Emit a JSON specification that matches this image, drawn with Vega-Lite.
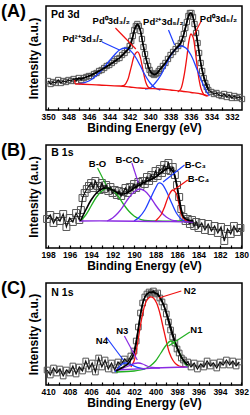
{
  "$schema": "https://vega.github.io/schema/vega-lite/v6.json",
  "padding": {"left": 0, "top": 2, "right": 6, "bottom": 0},
  "autosize": {"type": "pad"},
  "spacing": 6,
  "config": {
    "font": "Liberation Sans",
    "view": {"stroke": "#000", "strokeWidth": 1.5},
    "axisX": {"domain": false, "grid": false, "tickSize": -3, "tickColor": "#000", "tickWidth": 1.2, "labelFontSize": 8.5, "labelFontWeight": "bold", "labelColor": "#000", "labelPadding": 5, "labelFlush": false, "labelOverlap": false, "titleFontSize": 12, "titleFontWeight": "bold", "titleColor": "#000", "titlePadding": 2, "labelExpr": "datum.value % 2 === 0 ? datum.label : ''"},
    "axisY": {"domain": false, "grid": false, "ticks": false, "labels": false, "minExtent": 0, "titleFontSize": 12, "titleFontWeight": "bold", "titleColor": "#000", "titlePadding": 6},
    "title": {"fontSize": 18, "fontWeight": "bold", "color": "#000", "anchor": "start", "frame": "group", "dx": -45, "offset": -15}
  },
  "datasets": {
    "rawA": [
      {"e":350.0,"i":29},{"e":349.75,"i":26},{"e":349.5,"i":28},{"e":349.25,"i":27},{"e":349.0,"i":30},{"e":348.75,"i":27},{"e":348.5,"i":29},{"e":348.25,"i":28},{"e":348.0,"i":30},{"e":347.75,"i":29},{"e":347.5,"i":31},{"e":347.25,"i":29},{"e":347.0,"i":32},{"e":346.75,"i":30},{"e":346.5,"i":32},{"e":346.25,"i":33},{"e":346.0,"i":34},{"e":345.75,"i":34},{"e":345.5,"i":36},{"e":345.25,"i":37},{"e":345.0,"i":39},{"e":344.75,"i":40},{"e":344.5,"i":42},{"e":344.25,"i":44},{"e":344.0,"i":45},{"e":343.75,"i":47},{"e":343.5,"i":49},{"e":343.25,"i":51},{"e":343.0,"i":52},{"e":342.75,"i":55},{"e":342.5,"i":57},{"e":342.25,"i":60},{"e":342.0,"i":64},{"e":341.85,"i":69},{"e":341.7,"i":74},{"e":341.55,"i":80},{"e":341.4,"i":84},{"e":341.25,"i":86},{"e":341.1,"i":84},{"e":340.95,"i":79},{"e":340.8,"i":71},{"e":340.65,"i":63},{"e":340.5,"i":56},{"e":340.35,"i":49},{"e":340.2,"i":44},{"e":340.05,"i":40},{"e":339.9,"i":37},{"e":339.75,"i":36},{"e":339.6,"i":35},{"e":339.45,"i":36},{"e":339.3,"i":37},{"e":339.15,"i":39},{"e":339.0,"i":41},{"e":338.75,"i":44},{"e":338.5,"i":47},{"e":338.25,"i":51},{"e":338.0,"i":55},{"e":337.75,"i":58},{"e":337.5,"i":61},{"e":337.25,"i":64},{"e":337.0,"i":67},{"e":336.85,"i":71},{"e":336.7,"i":76},{"e":336.55,"i":82},{"e":336.4,"i":88},{"e":336.25,"i":94},{"e":336.1,"i":97},{"e":335.95,"i":97},{"e":335.8,"i":93},{"e":335.65,"i":86},{"e":335.5,"i":77},{"e":335.35,"i":67},{"e":335.2,"i":57},{"e":335.05,"i":47},{"e":334.9,"i":39},{"e":334.75,"i":32},{"e":334.6,"i":27},{"e":334.45,"i":23},{"e":334.3,"i":20},{"e":334.0,"i":18},{"e":333.75,"i":16},{"e":333.5,"i":17},{"e":333.25,"i":15},{"e":333.0,"i":14},{"e":332.75,"i":16},{"e":332.5,"i":13},{"e":332.25,"i":15},{"e":332.0,"i":12},{"e":331.75,"i":14},{"e":331.5,"i":12},{"e":331.25,"i":13},{"e":331.0,"i":11}
    ],
    "envA": [
      {"e":347.4,"i":31},{"e":346.5,"i":32},{"e":346,"i":34},{"e":345,"i":39},{"e":344,"i":45},{"e":343,"i":52},{"e":342.5,"i":57},{"e":342,"i":63},{"e":341.7,"i":73},{"e":341.5,"i":81},{"e":341.3,"i":85},{"e":341.1,"i":84},{"e":340.9,"i":77},{"e":340.7,"i":66},{"e":340.5,"i":56},{"e":340.2,"i":44},{"e":340,"i":39},{"e":339.7,"i":36},{"e":339.4,"i":36},{"e":339,"i":41},{"e":338.5,"i":47},{"e":338,"i":55},{"e":337.5,"i":61},{"e":337,"i":67},{"e":336.7,"i":76},{"e":336.4,"i":88},{"e":336.2,"i":95},{"e":336.0,"i":97},{"e":335.8,"i":93},{"e":335.6,"i":83},{"e":335.4,"i":71},{"e":335.2,"i":58},{"e":335,"i":45},{"e":334.7,"i":32},{"e":334.3,"i":21}
    ],
    "compA": [
      {"c":"Pd0 3d3/2","e":342.8,"i":24},{"c":"Pd0 3d3/2","e":342.5,"i":25},{"c":"Pd0 3d3/2","e":342.2,"i":30},{"c":"Pd0 3d3/2","e":342.0,"i":37},{"c":"Pd0 3d3/2","e":341.8,"i":45},{"c":"Pd0 3d3/2","e":341.6,"i":53},{"c":"Pd0 3d3/2","e":341.4,"i":57},{"c":"Pd0 3d3/2","e":341.2,"i":58},{"c":"Pd0 3d3/2","e":341.0,"i":54},{"c":"Pd0 3d3/2","e":340.8,"i":45},{"c":"Pd0 3d3/2","e":340.6,"i":35},{"c":"Pd0 3d3/2","e":340.4,"i":27},{"c":"Pd0 3d3/2","e":340.2,"i":23},{"c":"Pd0 3d3/2","e":340.0,"i":22},
      {"c":"Pd0 3d5/2","e":337.3,"i":18},{"c":"Pd0 3d5/2","e":337.0,"i":21},{"c":"Pd0 3d5/2","e":336.7,"i":33},{"c":"Pd0 3d5/2","e":336.4,"i":53},{"c":"Pd0 3d5/2","e":336.2,"i":69},{"c":"Pd0 3d5/2","e":336.0,"i":76},{"c":"Pd0 3d5/2","e":335.8,"i":73},{"c":"Pd0 3d5/2","e":335.6,"i":61},{"c":"Pd0 3d5/2","e":335.4,"i":44},{"c":"Pd0 3d5/2","e":335.2,"i":30},{"c":"Pd0 3d5/2","e":335.0,"i":21},{"c":"Pd0 3d5/2","e":334.7,"i":15},{"c":"Pd0 3d5/2","e":334.4,"i":14},
      {"c":"Pd2+ 3d3/2","e":347,"i":26},{"c":"Pd2+ 3d3/2","e":346,"i":29},{"c":"Pd2+ 3d3/2","e":345,"i":37},{"c":"Pd2+ 3d3/2","e":344,"i":49},{"c":"Pd2+ 3d3/2","e":343.5,"i":55},{"c":"Pd2+ 3d3/2","e":343,"i":60},{"c":"Pd2+ 3d3/2","e":342.5,"i":62},{"c":"Pd2+ 3d3/2","e":342,"i":60},{"c":"Pd2+ 3d3/2","e":341.5,"i":54},{"c":"Pd2+ 3d3/2","e":341,"i":45},{"c":"Pd2+ 3d3/2","e":340.5,"i":35},{"c":"Pd2+ 3d3/2","e":340,"i":27},{"c":"Pd2+ 3d3/2","e":339.5,"i":22},{"c":"Pd2+ 3d3/2","e":339,"i":20},
      {"c":"Pd2+ 3d5/2","e":340.5,"i":21},{"c":"Pd2+ 3d5/2","e":340,"i":22},{"c":"Pd2+ 3d5/2","e":339.5,"i":27},{"c":"Pd2+ 3d5/2","e":339,"i":34},{"c":"Pd2+ 3d5/2","e":338.5,"i":44},{"c":"Pd2+ 3d5/2","e":338,"i":54},{"c":"Pd2+ 3d5/2","e":337.5,"i":61},{"c":"Pd2+ 3d5/2","e":337,"i":64},{"c":"Pd2+ 3d5/2","e":336.5,"i":62},{"c":"Pd2+ 3d5/2","e":336,"i":55},{"c":"Pd2+ 3d5/2","e":335.5,"i":43},{"c":"Pd2+ 3d5/2","e":335,"i":30},{"c":"Pd2+ 3d5/2","e":334.5,"i":19},{"c":"Pd2+ 3d5/2","e":334.2,"i":14},
      {"c":"Pd bg","e":347.4,"i":30},{"c":"Pd bg","e":347.3,"i":26},{"c":"Pd bg","e":347,"i":26},{"c":"Pd bg","e":345,"i":25},{"c":"Pd bg","e":343,"i":24},{"c":"Pd bg","e":342,"i":23},{"c":"Pd bg","e":341,"i":22},{"c":"Pd bg","e":340,"i":21.5},{"c":"Pd bg","e":339,"i":21},{"c":"Pd bg","e":338,"i":20},{"c":"Pd bg","e":337,"i":19},{"c":"Pd bg","e":336,"i":17.5},{"c":"Pd bg","e":335,"i":16},{"c":"Pd bg","e":334.3,"i":14}
    ],
    "arrA": [
      {"c":"Pd2+ 3d3/2","e":344.7,"i":68,"e2":343.0,"i2":60},
      {"c":"Pd0 3d3/2","e":343.4,"i":82,"e2":341.4,"i2":61},
      {"c":"Pd2+ 3d5/2","e":338.2,"i":80,"e2":337.6,"i2":65},
      {"c":"Pd0 3d5/2","e":335.0,"i":89,"e2":335.7,"i2":75}
    ],
    "labA": [
      {"t":"Pd²⁺3d₃/₂","e":346.6,"i":71},
      {"t":"Pd⁰3d₃/₂","e":343.8,"i":89},
      {"t":"Pd²⁺3d₅/₂","e":338.7,"i":88},
      {"t":"Pd⁰3d₅/₂","e":333.3,"i":91}
    ],
    "tagA": [{"t":"Pd 3d","e":349.7,"i":95}],
    "rawB": [
      {"e":198.1,"i":29},{"e":197.8,"i":33},{"e":197.5,"i":25},{"e":197.2,"i":31},{"e":196.9,"i":27},{"e":196.6,"i":34},{"e":196.3,"i":21},{"e":196.0,"i":30},{"e":195.7,"i":26},{"e":195.4,"i":35},{"e":195.1,"i":28},{"e":194.95,"i":38},{"e":194.8,"i":50},{"e":194.6,"i":55},{"e":194.4,"i":59},{"e":194.2,"i":62},{"e":194.0,"i":65},{"e":193.8,"i":60},{"e":193.6,"i":67},{"e":193.4,"i":62},{"e":193.2,"i":58},{"e":193.0,"i":65},{"e":192.8,"i":59},{"e":192.6,"i":63},{"e":192.4,"i":57},{"e":192.2,"i":61},{"e":192.0,"i":55},{"e":191.8,"i":58},{"e":191.6,"i":53},{"e":191.4,"i":57},{"e":191.2,"i":52},{"e":191.0,"i":56},{"e":190.8,"i":60},{"e":190.6,"i":55},{"e":190.4,"i":61},{"e":190.2,"i":58},{"e":190.0,"i":64},{"e":189.8,"i":60},{"e":189.6,"i":66},{"e":189.4,"i":62},{"e":189.2,"i":67},{"e":189.0,"i":64},{"e":188.8,"i":71},{"e":188.6,"i":67},{"e":188.4,"i":73},{"e":188.2,"i":70},{"e":188.0,"i":77},{"e":187.8,"i":72},{"e":187.6,"i":79},{"e":187.4,"i":75},{"e":187.2,"i":83},{"e":187.0,"i":78},{"e":186.8,"i":85},{"e":186.6,"i":77},{"e":186.4,"i":81},{"e":186.2,"i":73},{"e":186.0,"i":63},{"e":185.8,"i":51},{"e":185.6,"i":39},{"e":185.4,"i":31},{"e":185.2,"i":27},{"e":185.0,"i":29},{"e":184.8,"i":24},{"e":184.6,"i":28},{"e":184.4,"i":22},{"e":184.2,"i":26},{"e":184.0,"i":20},{"e":183.7,"i":25},{"e":183.4,"i":18},{"e":183.1,"i":24},{"e":182.8,"i":17},{"e":182.5,"i":22},{"e":182.2,"i":15},{"e":181.9,"i":21},{"e":181.6,"i":7},{"e":181.3,"i":19},{"e":181.0,"i":14},{"e":180.7,"i":22},{"e":180.4,"i":16},{"e":180.1,"i":20}
    ],
    "envB": [
      {"e":195,"i":27},{"e":194.5,"i":38},{"e":194,"i":48},{"e":193.5,"i":55},{"e":193,"i":59},{"e":192.5,"i":60},{"e":192,"i":58},{"e":191.5,"i":55},{"e":191,"i":54},{"e":190.5,"i":56},{"e":190,"i":60},{"e":189.5,"i":63},{"e":189,"i":66},{"e":188.5,"i":68},{"e":188,"i":71},{"e":187.5,"i":75},{"e":187,"i":79},{"e":186.7,"i":80},{"e":186.4,"i":77},{"e":186.2,"i":71},{"e":186,"i":61},{"e":185.8,"i":48},{"e":185.6,"i":37},{"e":185.4,"i":31},{"e":185,"i":28},{"e":184.5,"i":27}
    ],
    "compB": [
      {"c":"B-O","e":195,"i":27},{"c":"B-O","e":194.5,"i":33},{"c":"B-O","e":194,"i":42},{"c":"B-O","e":193.5,"i":51},{"c":"B-O","e":193,"i":57},{"c":"B-O","e":192.5,"i":60},{"c":"B-O","e":192,"i":58},{"c":"B-O","e":191.5,"i":52},{"c":"B-O","e":191,"i":44},{"c":"B-O","e":190.5,"i":37},{"c":"B-O","e":190,"i":32},{"c":"B-O","e":189.5,"i":29},{"c":"B-O","e":189,"i":27.5},{"c":"B-O","e":188,"i":27},{"c":"B-O","e":186,"i":27},{"c":"B-O","e":185,"i":27},
      {"c":"B-CO2","e":192.5,"i":27},{"c":"B-CO2","e":192,"i":30},{"c":"B-CO2","e":191.5,"i":35},{"c":"B-CO2","e":191,"i":42},{"c":"B-CO2","e":190.5,"i":50},{"c":"B-CO2","e":190,"i":56},{"c":"B-CO2","e":189.5,"i":59},{"c":"B-CO2","e":189,"i":57},{"c":"B-CO2","e":188.5,"i":51},{"c":"B-CO2","e":188,"i":43},{"c":"B-CO2","e":187.5,"i":36},{"c":"B-CO2","e":187,"i":31},{"c":"B-CO2","e":186.5,"i":28},{"c":"B-CO2","e":186,"i":27},
      {"c":"B-C3","e":190,"i":27},{"c":"B-C3","e":189.5,"i":31},{"c":"B-C3","e":189,"i":38},{"c":"B-C3","e":188.5,"i":49},{"c":"B-C3","e":188,"i":60},{"c":"B-C3","e":187.7,"i":65},{"c":"B-C3","e":187.4,"i":64},{"c":"B-C3","e":187,"i":57},{"c":"B-C3","e":186.5,"i":45},{"c":"B-C3","e":186,"i":34},{"c":"B-C3","e":185.5,"i":28},{"c":"B-C3","e":185,"i":27},
      {"c":"B-C4","e":188,"i":27},{"c":"B-C4","e":187.5,"i":33},{"c":"B-C4","e":187.2,"i":40},{"c":"B-C4","e":187,"i":46},{"c":"B-C4","e":186.7,"i":54},{"c":"B-C4","e":186.4,"i":58},{"c":"B-C4","e":186.1,"i":55},{"c":"B-C4","e":185.9,"i":48},{"c":"B-C4","e":185.7,"i":38},{"c":"B-C4","e":185.5,"i":31},{"c":"B-C4","e":185.2,"i":27.5},{"c":"B-C4","e":185,"i":27},
      {"c":"B bg","e":195.1,"i":27},{"c":"B bg","e":192,"i":27},{"c":"B bg","e":188,"i":26.5},{"c":"B bg","e":184.5,"i":26}
    ],
    "arrB": [
      {"c":"B-O","e":193.4,"i":80,"e2":192.6,"i2":63},
      {"c":"B-CO2","e":190.2,"i":85,"e2":189.6,"i2":65},
      {"c":"B-C3","e":185.3,"i":83,"e2":187.3,"i2":66},
      {"c":"B-C4","e":185.0,"i":68,"e2":186.3,"i2":58}
    ],
    "labB": [
      {"t":"B-O","e":193.4,"i":84},
      {"t":"B-CO₂","e":190.4,"i":88},
      {"t":"B-C₃","e":184.3,"i":83},
      {"t":"B-C₄","e":184.0,"i":69}
    ],
    "tagB": [{"t":"B 1s","e":197.7,"i":95}],
    "rawC": [
      {"e":410.1,"i":15},{"e":409.8,"i":10},{"e":409.5,"i":17},{"e":409.2,"i":12},{"e":408.9,"i":16},{"e":408.6,"i":9},{"e":408.3,"i":15},{"e":408.0,"i":12},{"e":407.7,"i":19},{"e":407.4,"i":11},{"e":407.1,"i":18},{"e":406.8,"i":14},{"e":406.5,"i":24},{"e":406.2,"i":16},{"e":405.9,"i":22},{"e":405.6,"i":13},{"e":405.3,"i":27},{"e":405.0,"i":18},{"e":404.7,"i":25},{"e":404.4,"i":16},{"e":404.1,"i":22},{"e":403.8,"i":15},{"e":403.5,"i":23},{"e":403.2,"i":20},{"e":402.9,"i":26},{"e":402.6,"i":23},{"e":402.3,"i":29},{"e":402.0,"i":34},{"e":401.8,"i":44},{"e":401.6,"i":58},{"e":401.4,"i":72},{"e":401.2,"i":82},{"e":401.0,"i":88},{"e":400.8,"i":91},{"e":400.6,"i":93},{"e":400.4,"i":92},{"e":400.2,"i":94},{"e":400.0,"i":91},{"e":399.8,"i":92},{"e":399.6,"i":87},{"e":399.4,"i":83},{"e":399.2,"i":78},{"e":399.0,"i":71},{"e":398.8,"i":63},{"e":398.6,"i":55},{"e":398.4,"i":48},{"e":398.2,"i":42},{"e":398.0,"i":36},{"e":397.8,"i":32},{"e":397.6,"i":27},{"e":397.4,"i":25},{"e":397.2,"i":21},{"e":397.0,"i":23},{"e":396.7,"i":18},{"e":396.4,"i":22},{"e":396.1,"i":16},{"e":395.8,"i":21},{"e":395.5,"i":18},{"e":395.2,"i":24},{"e":394.9,"i":19},{"e":394.6,"i":22},{"e":394.3,"i":17},{"e":394.0,"i":23},{"e":393.7,"i":20},{"e":393.4,"i":25},{"e":393.1,"i":20},{"e":392.8,"i":24},{"e":392.5,"i":19},{"e":392.2,"i":23}
    ],
    "envC": [
      {"e":403.7,"i":14},{"e":403,"i":18},{"e":402.5,"i":22},{"e":402,"i":32},{"e":401.7,"i":49},{"e":401.4,"i":70},{"e":401.1,"i":85},{"e":400.8,"i":91},{"e":400.4,"i":93},{"e":400,"i":92},{"e":399.6,"i":88},{"e":399.2,"i":79},{"e":398.8,"i":66},{"e":398.4,"i":51},{"e":398,"i":38},{"e":397.6,"i":28},{"e":397.2,"i":22},{"e":397,"i":20}
    ],
    "compC": [
      {"c":"N2","e":402.3,"i":18},{"c":"N2","e":402.0,"i":24},{"c":"N2","e":401.7,"i":40},{"c":"N2","e":401.4,"i":60},{"c":"N2","e":401.1,"i":76},{"c":"N2","e":400.8,"i":85},{"c":"N2","e":400.5,"i":88},{"c":"N2","e":400.2,"i":87},{"c":"N2","e":399.9,"i":82},{"c":"N2","e":399.6,"i":72},{"c":"N2","e":399.3,"i":58},{"c":"N2","e":399.0,"i":44},{"c":"N2","e":398.7,"i":32},{"c":"N2","e":398.4,"i":25},{"c":"N2","e":398.1,"i":21},{"c":"N2","e":397.8,"i":19},{"c":"N2","e":397.3,"i":18},
      {"c":"N1","e":403.7,"i":13},{"c":"N1","e":402,"i":14},{"c":"N1","e":401,"i":16},{"c":"N1","e":400.5,"i":19},{"c":"N1","e":400,"i":24},{"c":"N1","e":399.5,"i":32},{"c":"N1","e":399,"i":40},{"c":"N1","e":398.6,"i":44},{"c":"N1","e":398.2,"i":41},{"c":"N1","e":397.8,"i":33},{"c":"N1","e":397.4,"i":24},{"c":"N1","e":397,"i":18},
      {"c":"N3","e":403.7,"i":15},{"c":"N3","e":403,"i":17},{"c":"N3","e":402.5,"i":19},{"c":"N3","e":402,"i":21.5},{"c":"N3","e":401.6,"i":22},{"c":"N3","e":401.2,"i":21},{"c":"N3","e":400.8,"i":19},{"c":"N3","e":400.3,"i":17.5},{"c":"N3","e":399.6,"i":17},
      {"c":"N4","e":403.8,"i":13},{"c":"N4","e":403.4,"i":18},{"c":"N4","e":403.1,"i":21},{"c":"N4","e":402.8,"i":22},{"c":"N4","e":402.4,"i":21},{"c":"N4","e":402.0,"i":19},{"c":"N4","e":401.5,"i":17},{"c":"N4","e":401.0,"i":16},
      {"c":"N bg","e":403.7,"i":15},{"c":"N bg","e":400,"i":17},{"c":"N bg","e":397,"i":18}
    ],
    "arrC": [
      {"c":"N2","e":397.6,"i":94,"e2":399.7,"i2":87},
      {"c":"N1","e":396.8,"i":53,"e2":398.8,"i2":39},
      {"c":"N3","e":402.9,"i":49,"e2":401.7,"i2":25},
      {"c":"N4","e":404.6,"i":48,"e2":403.0,"i2":25}
    ],
    "labC": [
      {"t":"N2","e":396.8,"i":94},
      {"t":"N1","e":396.2,"i":55},
      {"t":"N3","e":403.1,"i":54},
      {"t":"N4","e":405.0,"i":44}
    ],
    "tagC": [{"t":"N 1s","e":409.7,"i":92}]
  },
  "vconcat": [
    {
      "width": 196, "height": 104,
      "title": {"text": "(A)"},
      "encoding": {
        "x": {"field": "e", "type": "quantitative", "scale": {"domain": [331, 350.2], "reverse": true, "nice": false, "zero": false}, "axis": {"title": "Binding Energy (eV)", "values": [332,333,334,335,336,337,338,339,340,341,342,343,344,345,346,347,348,349,350]}},
        "y": {"field": "i", "type": "quantitative", "scale": {"domain": [0, 104], "nice": false, "zero": false}, "axis": {"title": "Intensity (a.u.)"}}
      },
      "layer": [
        {"data": {"name": "rawA"}, "mark": {"type": "point", "shape": "square", "filled": false, "size": 28, "stroke": "#555", "strokeWidth": 1, "opacity": 1}},
        {"data": {"name": "rawA"}, "mark": {"type": "line", "color": "#111", "strokeWidth": 1.2}},
        {"data": {"name": "compA"}, "mark": {"type": "line", "strokeWidth": 1.3, "interpolate": "catmull-rom"}, "encoding": {"color": {"field": "c", "type": "nominal", "legend": null, "scale": {"domain": ["Pd0 3d3/2","Pd0 3d5/2","Pd2+ 3d3/2","Pd2+ 3d5/2","Pd bg","B-O","B-CO2","B-C3","B-C4","B bg","N1","N2","N3","N4","N bg"], "range": ["#f01010","#f01010","#1f3fff","#1f3fff","#f01010","#22b022","#8a2be2","#1f3fff","#f01010","#8a2be2","#22b022","#f01010","#8a2be2","#1f3fff","#8a2be2"]}}}},
        {"data": {"name": "envA"}, "mark": {"type": "line", "color": "#000", "strokeWidth": 1.6, "interpolate": "catmull-rom"}},
        {"data": {"name": "arrA"}, "mark": {"type": "rule", "strokeWidth": 1.2}, "encoding": {"x2": {"field": "e2"}, "y2": {"field": "i2"}, "color": {"field": "c", "type": "nominal", "legend": null, "scale": {"domain": ["Pd0 3d3/2","Pd0 3d5/2","Pd2+ 3d3/2","Pd2+ 3d5/2","Pd bg","B-O","B-CO2","B-C3","B-C4","B bg","N1","N2","N3","N4","N bg"], "range": ["#f01010","#f01010","#1f3fff","#1f3fff","#f01010","#22b022","#8a2be2","#1f3fff","#f01010","#8a2be2","#22b022","#f01010","#8a2be2","#1f3fff","#8a2be2"]}}}},
        {"data": {"name": "labA"}, "mark": {"type": "text", "fontSize": 9.5, "fontWeight": "bold", "align": "center", "baseline": "middle", "color": "#000"}, "encoding": {"text": {"field": "t"}}},
        {"data": {"name": "tagA"}, "mark": {"type": "text", "fontSize": 10.5, "fontWeight": "bold", "align": "left", "baseline": "middle", "color": "#000"}, "encoding": {"text": {"field": "t"}}}
      ]
    },
    {
      "width": 196, "height": 103,
      "title": {"text": "(B)"},
      "encoding": {
        "x": {"field": "e", "type": "quantitative", "scale": {"domain": [179.95, 198.2], "reverse": true, "nice": false, "zero": false}, "axis": {"title": "Binding Energy (eV)", "values": [180,181,182,183,184,185,186,187,188,189,190,191,192,193,194,195,196,197,198]}},
        "y": {"field": "i", "type": "quantitative", "scale": {"domain": [0, 103], "nice": false, "zero": false}, "axis": {"title": "Intensity (a.u.)"}}
      },
      "layer": [
        {"data": {"name": "rawB"}, "mark": {"type": "point", "shape": "square", "filled": false, "size": 48, "stroke": "#555", "strokeWidth": 1, "opacity": 1}},
        {"data": {"name": "rawB"}, "mark": {"type": "line", "color": "#111", "strokeWidth": 1.2}},
        {"data": {"name": "compB"}, "mark": {"type": "line", "strokeWidth": 1.3, "interpolate": "catmull-rom"}, "encoding": {"color": {"field": "c", "type": "nominal", "legend": null, "scale": {"domain": ["Pd0 3d3/2","Pd0 3d5/2","Pd2+ 3d3/2","Pd2+ 3d5/2","Pd bg","B-O","B-CO2","B-C3","B-C4","B bg","N1","N2","N3","N4","N bg"], "range": ["#f01010","#f01010","#1f3fff","#1f3fff","#f01010","#22b022","#8a2be2","#1f3fff","#f01010","#8a2be2","#22b022","#f01010","#8a2be2","#1f3fff","#8a2be2"]}}}},
        {"data": {"name": "envB"}, "mark": {"type": "line", "color": "#000", "strokeWidth": 1.6, "interpolate": "catmull-rom"}},
        {"data": {"name": "arrB"}, "mark": {"type": "rule", "strokeWidth": 1.2}, "encoding": {"x2": {"field": "e2"}, "y2": {"field": "i2"}, "color": {"field": "c", "type": "nominal", "legend": null, "scale": {"domain": ["Pd0 3d3/2","Pd0 3d5/2","Pd2+ 3d3/2","Pd2+ 3d5/2","Pd bg","B-O","B-CO2","B-C3","B-C4","B bg","N1","N2","N3","N4","N bg"], "range": ["#f01010","#f01010","#1f3fff","#1f3fff","#f01010","#22b022","#8a2be2","#1f3fff","#f01010","#8a2be2","#22b022","#f01010","#8a2be2","#1f3fff","#8a2be2"]}}}},
        {"data": {"name": "labB"}, "mark": {"type": "text", "fontSize": 9.5, "fontWeight": "bold", "align": "center", "baseline": "middle", "color": "#000"}, "encoding": {"text": {"field": "t"}}},
        {"data": {"name": "tagB"}, "mark": {"type": "text", "fontSize": 10.5, "fontWeight": "bold", "align": "left", "baseline": "middle", "color": "#000"}, "encoding": {"text": {"field": "t"}}}
      ]
    },
    {
      "width": 196, "height": 102,
      "title": {"text": "(C)"},
      "encoding": {
        "x": {"field": "e", "type": "quantitative", "scale": {"domain": [391.95, 410.2], "reverse": true, "nice": false, "zero": false}, "axis": {"title": "Binding Energy (eV)", "values": [392,393,394,395,396,397,398,399,400,401,402,403,404,405,406,407,408,409,410]}},
        "y": {"field": "i", "type": "quantitative", "scale": {"domain": [0, 102], "nice": false, "zero": false}, "axis": {"title": "Intensity (a.u.)"}}
      },
      "layer": [
        {"data": {"name": "rawC"}, "mark": {"type": "point", "shape": "square", "filled": false, "size": 32, "stroke": "#555", "strokeWidth": 1, "opacity": 1}},
        {"data": {"name": "rawC"}, "mark": {"type": "line", "color": "#111", "strokeWidth": 1.2}},
        {"data": {"name": "compC"}, "mark": {"type": "line", "strokeWidth": 1.3, "interpolate": "catmull-rom"}, "encoding": {"color": {"field": "c", "type": "nominal", "legend": null, "scale": {"domain": ["Pd0 3d3/2","Pd0 3d5/2","Pd2+ 3d3/2","Pd2+ 3d5/2","Pd bg","B-O","B-CO2","B-C3","B-C4","B bg","N1","N2","N3","N4","N bg"], "range": ["#f01010","#f01010","#1f3fff","#1f3fff","#f01010","#22b022","#8a2be2","#1f3fff","#f01010","#8a2be2","#22b022","#f01010","#8a2be2","#1f3fff","#8a2be2"]}}}},
        {"data": {"name": "envC"}, "mark": {"type": "line", "color": "#000", "strokeWidth": 1.6, "interpolate": "catmull-rom"}},
        {"data": {"name": "arrC"}, "mark": {"type": "rule", "strokeWidth": 1.2}, "encoding": {"x2": {"field": "e2"}, "y2": {"field": "i2"}, "color": {"field": "c", "type": "nominal", "legend": null, "scale": {"domain": ["Pd0 3d3/2","Pd0 3d5/2","Pd2+ 3d3/2","Pd2+ 3d5/2","Pd bg","B-O","B-CO2","B-C3","B-C4","B bg","N1","N2","N3","N4","N bg"], "range": ["#f01010","#f01010","#1f3fff","#1f3fff","#f01010","#22b022","#8a2be2","#1f3fff","#f01010","#8a2be2","#22b022","#f01010","#8a2be2","#1f3fff","#8a2be2"]}}}},
        {"data": {"name": "labC"}, "mark": {"type": "text", "fontSize": 9.5, "fontWeight": "bold", "align": "center", "baseline": "middle", "color": "#000"}, "encoding": {"text": {"field": "t"}}},
        {"data": {"name": "tagC"}, "mark": {"type": "text", "fontSize": 10.5, "fontWeight": "bold", "align": "left", "baseline": "middle", "color": "#000"}, "encoding": {"text": {"field": "t"}}}
      ]
    }
  ]
}
